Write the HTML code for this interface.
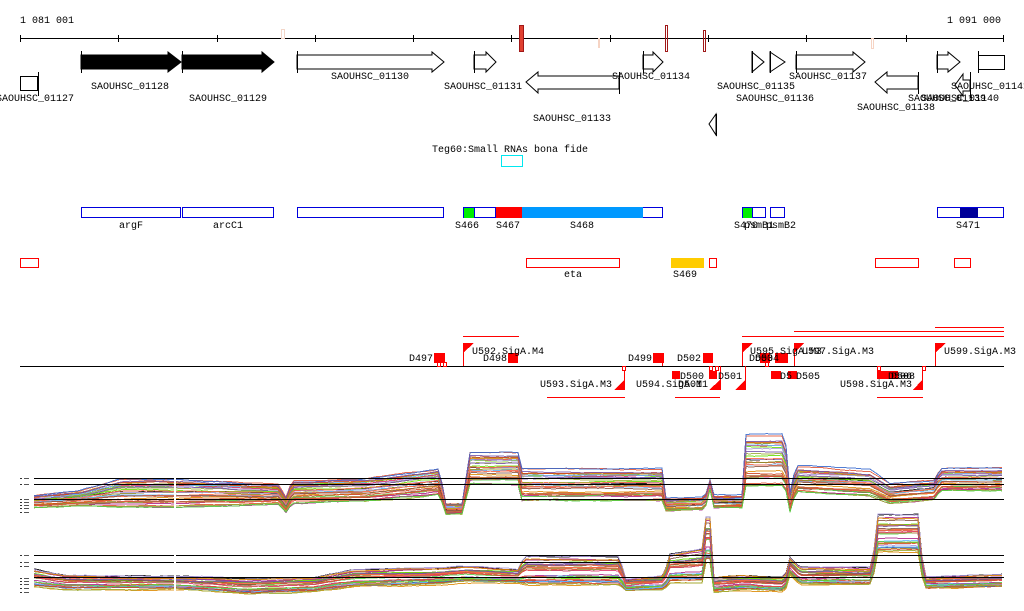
<!DOCTYPE html>
<html><head><meta charset="utf-8"><style>
html,body{margin:0;padding:0;background:#fff;width:1024px;height:611px;overflow:hidden}
svg{display:block}
text{font-family:"Liberation Mono",monospace;font-size:10px;fill:#000}
</style></head><body>
<svg id="s" width="1024" height="611" viewBox="0 0 1024 611" xmlns="http://www.w3.org/2000/svg">
<g shape-rendering="crispEdges">
<text x="20" y="23">1 081 001</text>
<text x="1001" y="23" text-anchor="end">1 091 000</text>
<line x1="20" y1="38.5" x2="1004" y2="38.5" stroke="#000"/>
<g stroke="#000">
<line x1="20.5" y1="35" x2="20.5" y2="42"/><line x1="118.5" y1="35" x2="118.5" y2="42"/><line x1="217.5" y1="35" x2="217.5" y2="42"/><line x1="315.5" y1="35" x2="315.5" y2="42"/><line x1="413.5" y1="35" x2="413.5" y2="42"/><line x1="511.5" y1="35" x2="511.5" y2="42"/><line x1="610.5" y1="35" x2="610.5" y2="42"/><line x1="708.5" y1="35" x2="708.5" y2="42"/><line x1="806.5" y1="35" x2="806.5" y2="42"/><line x1="906.5" y1="35" x2="906.5" y2="42"/><line x1="1003.5" y1="35" x2="1003.5" y2="42"/>
</g>
<rect x="281.5" y="29.5" width="3" height="9" fill="none" stroke="#f3d6c8"/>
<rect x="519.5" y="25.5" width="4" height="26" fill="#e04030" stroke="#a01818"/>
<rect x="665.5" y="25.5" width="2" height="26" fill="none" stroke="#a01818"/>
<rect x="703.5" y="30.5" width="2" height="21" fill="none" stroke="#a01818"/>
<rect x="598" y="38" width="2" height="10" fill="#f6d4c4"/>
<rect x="871.5" y="38.5" width="2" height="10" fill="none" stroke="#f6d4c4"/>
</g>
<g stroke="#000" fill="#fff" stroke-width="1">
<polygon points="81,55 168,55 168,52 181,62 168,72 168,69 81,69" fill="#000"/>
<polygon points="182,55 262,55 262,52 274,62 262,72 262,69 182,69" fill="#000"/>
<polygon points="297,55 432,55 432,52 444,62 432,72 432,69 297,69"/>
<polygon points="474,55 486,55 486,52 496,62 486,72 486,69 474,69"/>
<polygon points="643,55 653,55 653,52 663,62 653,72 653,69 643,69"/>
<polygon points="752,52 764,62 752,72"/>
<polygon points="770,52 785,62 770,72"/>
<polygon points="796,55 853,55 853,52 865,62 853,72 853,69 796,69"/>
<polygon points="937,55 948,55 948,52 960,62 948,72 948,69 937,69"/>
<rect x="978.5" y="55.5" width="26" height="14"/>
<polygon points="619,76 538,76 538,72 526,82 538,93 538,89 619,89"/>
<polygon points="918,76 887,76 887,72 875,82 887,93 887,89 918,89"/>
<polygon points="970,80 963,80 963,74 955,85 963,96 963,91 970,91"/>
<polygon points="716,114 709,124 716,135"/>
<rect x="20.5" y="76.5" width="17" height="14"/>
<line x1="81.5" y1="51" x2="81.5" y2="73"/><line x1="182.5" y1="51" x2="182.5" y2="73"/><line x1="297.5" y1="51" x2="297.5" y2="73"/><line x1="474.5" y1="51" x2="474.5" y2="73"/><line x1="643.5" y1="51" x2="643.5" y2="73"/><line x1="752.5" y1="51" x2="752.5" y2="73"/><line x1="770.5" y1="51" x2="770.5" y2="73"/><line x1="796.5" y1="51" x2="796.5" y2="73"/><line x1="937.5" y1="51" x2="937.5" y2="73"/><line x1="978.5" y1="51" x2="978.5" y2="73"/>
<line x1="619.5" y1="72" x2="619.5" y2="94"/><line x1="918.5" y1="72" x2="918.5" y2="94"/><line x1="970.5" y1="72" x2="970.5" y2="98"/><line x1="716.5" y1="114" x2="716.5" y2="136"/><line x1="38.5" y1="72" x2="38.5" y2="96"/>
</g>
<text x="35" y="101" text-anchor="middle">SAOUHSC_01127</text>
<text x="130" y="89" text-anchor="middle">SAOUHSC_01128</text>
<text x="228" y="101" text-anchor="middle">SAOUHSC_01129</text>
<text x="370" y="79" text-anchor="middle">SAOUHSC_01130</text>
<text x="483" y="89" text-anchor="middle">SAOUHSC_01131</text>
<text x="572" y="121" text-anchor="middle">SAOUHSC_01133</text>
<text x="651" y="79" text-anchor="middle">SAOUHSC_01134</text>
<text x="756" y="89" text-anchor="middle">SAOUHSC_01135</text>
<text x="775" y="101" text-anchor="middle">SAOUHSC_01136</text>
<text x="828" y="79" text-anchor="middle">SAOUHSC_01137</text>
<text x="896" y="110" text-anchor="middle">SAOUHSC_01138</text>
<text x="908" y="101">SAOUHSC_01139</text>
<text x="921" y="101">SAOUHSC_01140</text>
<text x="951" y="89">SAOUHSC_01141</text>
<text x="432" y="152">Teg60:Small RNAs bona fide</text>
<g shape-rendering="crispEdges">
<rect x="501.5" y="155.5" width="21" height="11" fill="none" stroke="#00e8f0"/>
<g stroke="#0000dd" fill="#fff">
<rect x="81.5" y="207.5" width="99" height="10"/><rect x="182.5" y="207.5" width="91" height="10"/><rect x="297.5" y="207.5" width="146" height="10"/>
<rect x="463.5" y="207.5" width="199" height="10"/>
<rect x="742.5" y="207.5" width="23" height="10"/><rect x="770.5" y="207.5" width="14" height="10"/>
<rect x="937.5" y="207.5" width="66" height="10"/>
</g>
<rect x="464" y="208" width="10" height="10" fill="#00ee00"/>
<rect x="474.5" y="207.5" width="21" height="10" fill="#fff" stroke="#0000dd"/>
<rect x="496" y="207" width="26" height="11" fill="#ff0000"/>
<rect x="522" y="207" width="121" height="11" fill="#0099ff"/>
<rect x="743" y="208" width="9" height="10" fill="#00ee00"/>
<rect x="752.5" y="207.5" width="13" height="10" fill="none" stroke="#0000dd"/>
<rect x="960" y="208" width="18" height="10" fill="#000099"/>
</g>
<text x="131" y="228" text-anchor="middle">argF</text>
<text x="228" y="228" text-anchor="middle">arcC1</text>
<text x="467" y="228" text-anchor="middle">S466</text>
<text x="508" y="228" text-anchor="middle">S467</text>
<text x="582" y="228" text-anchor="middle">S468</text>
<text x="734" y="228">S470</text><text x="744" y="228">psmB1</text><text x="766" y="228">psmB2</text>
<text x="968" y="228" text-anchor="middle">S471</text>
<g shape-rendering="crispEdges" stroke="#ff0000" fill="#fff">
<rect x="20.5" y="258.5" width="18" height="9"/>
<rect x="526.5" y="258.5" width="93" height="9"/>
<rect x="709.5" y="258.5" width="7" height="9"/>
<rect x="875.5" y="258.5" width="43" height="9"/>
<rect x="954.5" y="258.5" width="16" height="9"/>
</g>
<rect x="671" y="258" width="33" height="10" fill="#ffcc00"/>
<text x="573" y="277" text-anchor="middle">eta</text>
<text x="685" y="277" text-anchor="middle">S469</text>
<g id="term" shape-rendering="crispEdges">
<line x1="20" y1="366.5" x2="1004" y2="366.5" stroke="#000"/>
<g stroke="#ff0000">
<line x1="463" y1="336.5" x2="519" y2="336.5"/>
<line x1="742" y1="336.5" x2="1004" y2="336.5"/>
<line x1="794" y1="331.5" x2="1004" y2="331.5"/>
<line x1="935" y1="327.5" x2="1004" y2="327.5"/>
<line x1="547" y1="397.5" x2="625" y2="397.5"/>
<line x1="675" y1="397.5" x2="720" y2="397.5"/>
<line x1="877" y1="397.5" x2="923" y2="397.5"/>
<line x1="463.5" y1="343" x2="463.5" y2="366"/><line x1="742.5" y1="343" x2="742.5" y2="366"/><line x1="794.5" y1="343" x2="794.5" y2="366"/><line x1="935.5" y1="343" x2="935.5" y2="366"/>
<line x1="624.5" y1="366" x2="624.5" y2="390"/><line x1="720.5" y1="366" x2="720.5" y2="390"/><line x1="745.5" y1="366" x2="745.5" y2="390"/><line x1="922.5" y1="366" x2="922.5" y2="390"/>
<line x1="662.5" y1="362" x2="662.5" y2="366"/>
</g>
<g fill="#ff0000">
<polygon points="463,343 474,343 463,353"/><polygon points="742,343 753,343 742,353"/><polygon points="794,343 804,343 794,353"/><polygon points="935,343 946,343 935,353"/>
<polygon points="624,380 614,390 624,390"/><polygon points="720,380 709,390 720,390"/><polygon points="745,380 735,390 745,390"/><polygon points="922,380 913,390 922,390"/>
<rect x="434" y="353" width="11" height="10"/><rect x="508" y="353" width="10" height="10"/><rect x="653" y="353" width="11" height="10"/><rect x="703" y="353" width="10" height="10"/><rect x="775" y="353" width="13" height="10"/><rect x="760" y="353" width="10" height="10"/>
<rect x="672" y="371" width="8" height="8"/><rect x="709" y="371" width="8" height="8"/><rect x="771" y="371" width="10" height="8"/><rect x="788" y="371" width="9" height="8"/><rect x="877" y="371" width="21" height="8"/>
</g>
<g fill="#fff" stroke="#ff0000">
<rect x="443.5" y="362.5" width="3" height="4"/><rect x="437.5" y="362.5" width="3" height="4"/><rect x="622.5" y="366.5" width="3" height="4"/><rect x="709.5" y="366.5" width="3" height="4"/><rect x="715.5" y="366.5" width="3" height="4"/><rect x="922.5" y="366.5" width="3" height="4"/><rect x="877.5" y="366.5" width="3" height="4"/><rect x="765.5" y="362.5" width="3" height="4"/>
</g>
</g>
<text x="409" y="361">D497</text>
<text x="472" y="354">U592.SigA.M4</text>
<text x="483" y="361">D498</text>
<text x="540" y="387">U593.SigA.M3</text>
<text x="628" y="361">D499</text>
<text x="677" y="361">D502</text>
<text x="680" y="379">D500</text>
<text x="636" y="387">U594.SigA.M1</text>
<text x="678" y="387">D501</text>
<text x="718" y="379">D501</text>
<text x="750" y="354">U595.SigA.M3</text>
<text x="749" y="361">D503</text><text x="755" y="361">D504</text>
<text x="802" y="354">U597.SigA.M3</text>
<text x="780" y="379">D5</text><text x="796" y="379">D505</text>
<text x="840" y="387">U598.SigA.M3</text>
<text x="888" y="379">D506</text><text x="891" y="379">D508</text>
<text x="944" y="354">U599.SigA.M3</text>
<g id="plots" shape-rendering="crispEdges"></g>
</svg>
<script>
(function(){
var g=document.getElementById('plots'),NS='http://www.w3.org/2000/svg';
var seed=7;function r(){seed=(seed*16807)%2147483647;return seed/2147483647;}
function add(tag,a){var e=document.createElementNS(NS,tag);for(var k in a)e.setAttribute(k,a[k]);g.appendChild(e);return e;}
var cols=['#e05030','#e05030','#8a8a20','#66dd00','#aa2288','#66bbff','#885544','#aa99dd','#dd8800','#cc4422','#99aa33','#ff6644','#7755aa','#55cc44','#bb7744','#000000','#3366cc','#dd3366'];
var top=[[34,503,.4],[80,500,.5],[120,496,.9],[175,496,.9],[280,496,.6],[285,508,.4],[292,494,.7],[365,492,.7],[440,484,.8],[445,510,.3],[465,510,.3],[467,472,1],[520,472,1],[522,488,1],[662,488,1],[666,506,.4],[705,505,.4],[710,486,.3],[713,503,.4],[742,503,.4],[744,466,1.6],[785,466,1.6],[790,505,.6],[796,482,.8],[870,486,.8],[890,496,.6],[935,492,.6],[940,482,.7],[1004,482,.7]];
var bot=[[34,580,.6],[65,584,.5],[175,584,.4],[250,588,.5],[315,586,.5],[355,580,.6],[440,578,.6],[465,576,.6],[520,578,.5],[523,574,1],[620,574,1],[625,586,.4],[665,584,.5],[668,572,1],[703,570,1.2],[706,545,1.6],[712,545,1.6],[714,586,.5],[742,584,.5],[785,586,.5],[790,568,.6],[800,578,.6],[873,578,.6],[876,538,1.3],[920,538,1.3],[923,584,.4],[1004,582,.4]];
function interp(p,x){for(var i=1;i<p.length;i++){if(x<=p[i][0]){var a=p[i-1],b=p[i],t=(x-a[0])/(b[0]-a[0]||1);return [a[1]+(b[1]-a[1])*t,a[2]+(b[2]-a[2])*t];}}var l=p[p.length-1];return [l[1],l[2]];}
function draw(p,n){
 for(var i=0;i<n;i++){
  var off=(r()-0.6)*32,c=cols[i%cols.length],pts=[];var drift=0;
  for(var x=34;x<=1004;x+=4){drift+=(r()-0.5)*0.8;drift*=0.95;var v=interp(p,x);var y=v[0]+off*v[1]+drift;pts.push(x+','+y.toFixed(1));}
  add('polyline',{points:pts.join(' '),fill:'none',stroke:c,'stroke-width':1,'stroke-opacity':0.85});
 }
}
draw(top,32);draw(bot,32);
function hl(y){add('line',{x1:34,y1:y+.5,x2:1004,y2:y+.5,stroke:'#000','stroke-width':1});}
hl(478);hl(484);hl(499);hl(555);hl(562);hl(577);
add('rect',{x:174,y:440,width:2,height:170,fill:'#fff'});
var ys=[478,484,499,502,505,508,512,555,562,566,578,581,584,588,592];
ys.forEach(function(y){add('rect',{x:20,y:y,width:2,height:1,fill:'#333'});add('rect',{x:24,y:y,width:5,height:1,fill:'#555'});});
})();
</script>
</body></html>
